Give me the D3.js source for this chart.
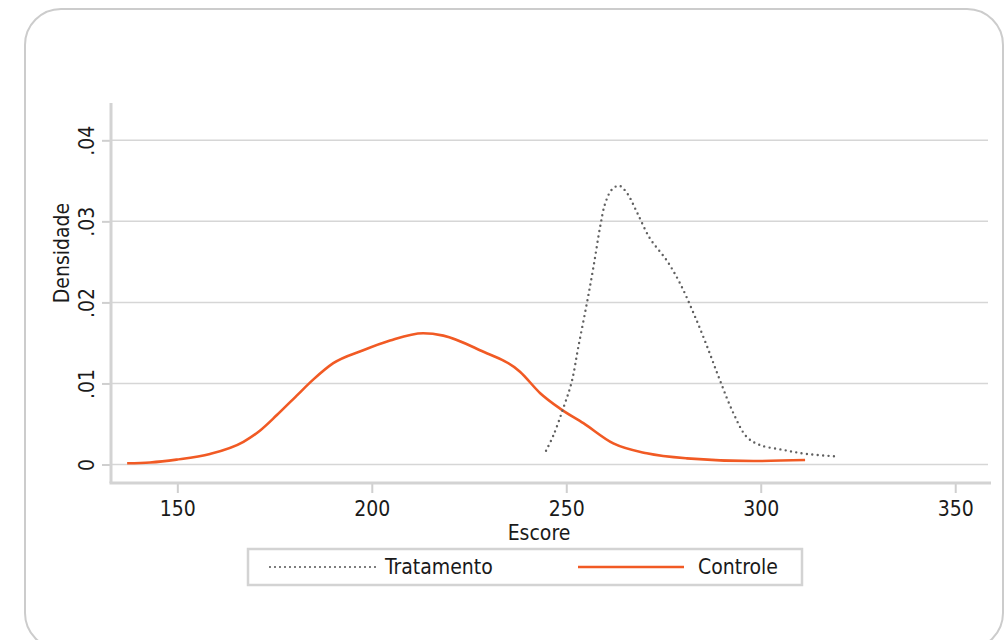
<!DOCTYPE html>
<html>
<head>
<meta charset="utf-8">
<script src="https://cdn.jsdelivr.net/npm/d3@7"></script>
<style>
  body { margin: 0; background: #fff; }
  text { font-family: "Liberation Sans Narrow", "DejaVu Sans Condensed", Roboto, sans-serif; fill: #1a1a1a; }
</style>
</head>
<body>
<svg id="chart" width="1005" height="640"></svg>
<script>
// Escore / Densidade
const tratamentoX = [244.8, 246.7, 249.2, 251.4, 253.1, 255.3, 257.0, 258.7, 260.0, 261.7, 263.6, 265.6, 268.1, 271.5, 275.8, 279.2, 282.7, 286.1, 289.5, 293.0, 296.4, 299.8, 305.8, 311.8, 319.6];
const tratamentoY = [0.0017, 0.0036, 0.0069, 0.0102, 0.0145, 0.0199, 0.0244, 0.0293, 0.0322, 0.0339, 0.0344, 0.0335, 0.0312, 0.0279, 0.0252, 0.0224, 0.0187, 0.0147, 0.0104, 0.0063, 0.0034, 0.0024, 0.0018, 0.0013, 0.0010];

const controleX = [137.1, 143.0, 149.8, 158.4, 167.0, 171.3, 175.6, 180.7, 185.0, 190.1, 197.8, 204.7, 213.2, 218.4, 227.8, 238.1, 243.3, 248.4, 254.4, 262.1, 270.7, 281.0, 298.1, 311.4];
const controleY = [0.00015, 0.00025, 0.0006, 0.0013, 0.0028, 0.0042, 0.0061, 0.0085, 0.0105, 0.0125, 0.0141, 0.0153, 0.0162, 0.0159, 0.0141, 0.01145, 0.0088, 0.0069, 0.0051, 0.0026, 0.00138, 0.00076, 0.00043, 0.00055];

const xTicks = [150, 200, 250, 300, 350];
const yTicks = [0, 0.01, 0.02, 0.03, 0.04];
const yTickLabels = ["0", ".01", ".02", ".03", ".04"];
const seriesNames = ["Tratamento", "Controle"];

const svg = d3.select("#chart");

// outer rounded frame
svg.append("rect")
    .attr("x", 25).attr("y", 9)
    .attr("width", 978).attr("height", 640)
    .attr("rx", 36)
    .attr("fill", "#fff")
    .attr("stroke", "#cccccc")
    .attr("stroke-width", 2);

const plotLeft = 111, plotRight = 991, plotTop = 103, plotBottom = 483;

const x = d3.scaleLinear()
    .domain([132.95, 359.2])
    .range([plotLeft, plotRight]);

const y = d3.scaleLinear()
    .domain([0, 0.04])
    .range([464.5, 140.3]);

// gridlines
svg.append("g")
    .selectAll("line")
    .data(yTicks)
    .join("line")
    .attr("x1", plotLeft).attr("x2", 988)
    .attr("y1", d => y(d)).attr("y2", d => y(d))
    .attr("stroke", "#d6d6d6")
    .attr("stroke-width", 1.5);

// Y axis
const yAxis = svg.append("g")
    .attr("transform", `translate(${plotLeft},0)`)
    .call(d3.axisLeft(y).tickValues(yTicks).tickSize(9).tickPadding(10)
        .tickFormat((d, i) => yTickLabels[i]));
yAxis.select(".domain").remove();
yAxis.selectAll(".tick line").attr("stroke", "#cfcfcf").attr("stroke-width", 2);
yAxis.selectAll(".tick text")
    .attr("transform", "rotate(-90)")
    .attr("x", 0).attr("y", -24)
    .attr("dy", "0.35em")
    .attr("text-anchor", "middle")
    .style("font-size", "21px")
    .style("fill", "#1a1a1a");
svg.append("line")
    .attr("x1", plotLeft).attr("x2", plotLeft)
    .attr("y1", plotTop).attr("y2", plotBottom)
    .attr("stroke", "#d3d3d3").attr("stroke-width", 3);

// X axis
const xAxis = svg.append("g")
    .attr("transform", `translate(0,${plotBottom})`)
    .call(d3.axisBottom(x).tickValues(xTicks).tickSize(10).tickPadding(8));
xAxis.select(".domain").remove();
xAxis.selectAll(".tick line").attr("stroke", "#cfcfcf").attr("stroke-width", 2);
xAxis.selectAll(".tick text")
    .style("font-size", "21px")
    .style("fill", "#1a1a1a");
svg.append("line")
    .attr("x1", plotLeft - 1.5).attr("x2", plotRight)
    .attr("y1", plotBottom).attr("y2", plotBottom)
    .attr("stroke", "#d3d3d3").attr("stroke-width", 3);

// axis titles
svg.append("text")
    .attr("x", 539).attr("y", 540)
    .attr("text-anchor", "middle")
    .style("font-size", "21px")
    .text("Escore");

svg.append("text")
    .attr("transform", "translate(69,253) rotate(-90)")
    .attr("text-anchor", "middle")
    .style("font-size", "21px")
    .text("Densidade");

// density lines
const line = d3.line()
    .x(d => x(d[0]))
    .y(d => y(d[1]))
    .curve(d3.curveMonotoneX);

const controle = controleX.map((v, i) => [v, controleY[i]]);
const tratamento = tratamentoX.map((v, i) => [v, tratamentoY[i]]);

svg.append("path")
    .datum(controle)
    .attr("fill", "none")
    .attr("stroke", "#f15a24")
    .attr("stroke-width", 2.6)
    .attr("d", line);

svg.append("path")
    .datum(tratamento)
    .attr("fill", "none")
    .attr("stroke", "#606060")
    .attr("stroke-width", 2.4)
    .attr("stroke-linecap", "round")
    .attr("stroke-dasharray", "0 5.4")
    .attr("d", d3.line().x(d => x(d[0])).y(d => y(d[1])).curve(d3.curveCatmullRom));

// legend
const legend = svg.append("g");
legend.append("rect")
    .attr("x", 248).attr("y", 549)
    .attr("width", 554).attr("height", 36)
    .attr("fill", "#fff")
    .attr("stroke", "#d3d3d3")
    .attr("stroke-width", 2.5);

legend.append("line")
    .attr("x1", 270).attr("x2", 378)
    .attr("y1", 567).attr("y2", 567)
    .attr("stroke", "#606060")
    .attr("stroke-width", 2.2)
    .attr("stroke-linecap", "round")
    .attr("stroke-dasharray", "0 5");
legend.append("text")
    .attr("x", 385).attr("y", 567)
    .attr("dy", "0.35em")
    .style("font-size", "21px")
    .text(seriesNames[0]);

legend.append("line")
    .attr("x1", 578).attr("x2", 684)
    .attr("y1", 567).attr("y2", 567)
    .attr("stroke", "#f15a24")
    .attr("stroke-width", 2.6);
legend.append("text")
    .attr("x", 698).attr("y", 567)
    .attr("dy", "0.35em")
    .style("font-size", "21px")
    .text(seriesNames[1]);
</script>
</body>
</html>
